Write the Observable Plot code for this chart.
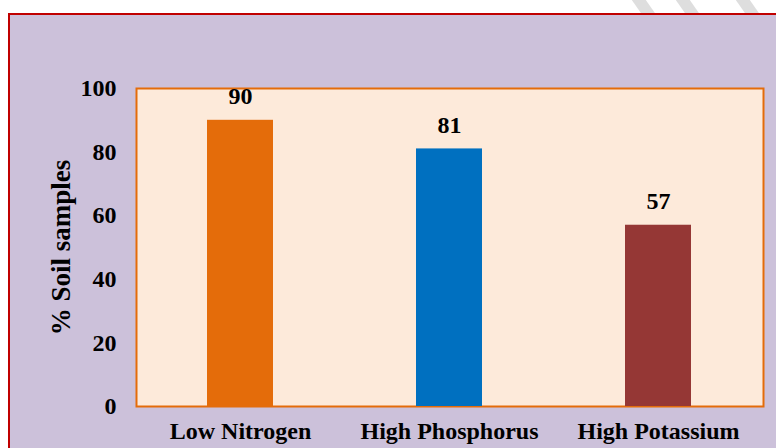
<!DOCTYPE html>
<html>
<head>
<meta charset="utf-8">
<script src="https://cdn.jsdelivr.net/npm/d3@7"></script>
<script src="https://cdn.jsdelivr.net/npm/@observablehq/plot@0.6"></script>
<style>
  html, body { margin: 0; padding: 0; background: #ffffff; overflow: hidden; }
  #wrap { position: relative; width: 776px; height: 448px; overflow: hidden; }
  #panel { position: absolute; left: 8px; top: 13px; width: 800px; height: 460px;
           background: #CCC1DA; border: 2px solid #C00000; box-sizing: border-box; }
  .stripe { position: absolute; top: -4px; width: 14px; height: 20px; background: #DEDEDE;
            transform: skewX(35deg); }
  #chart { position: absolute; left: 0; top: 0; }
  #chart svg text { font-family: 'Liberation Serif', 'Times New Roman', serif; font-weight: bold; }
</style>
</head>
<body>
<div id="wrap">
  <div class="stripe" style="left:636px"></div>
  <div class="stripe" style="left:680px"></div>
  <div class="stripe" style="left:740px"></div>
  <div id="panel"></div>
  <div id="chart"></div>
</div>
<script>
const categories = ["Low Nitrogen", "High Phosphorus", "High Potassium"];
const values = [90, 81, 57];
const colors = ["#E46C0A", "#0070C0", "#953735"];
const yTicks = [0, 20, 40, 60, 80, 100];

const data = categories.map((c, i) => ({category: c, value: values[i], color: colors[i]}));

const chart = Plot.plot({
  width: 776,
  height: 448,
  marginLeft: 136,
  marginTop: 88,
  marginRight: 13,
  marginBottom: 42,
  style: {
    fontFamily: "'Liberation Serif', 'Times New Roman', serif",
    fontSize: "24px",
    fontWeight: "bold",
    color: "#000",
    background: "transparent",
    overflow: "visible"
  },
  x: {domain: categories, paddingInner: 0.684, paddingOuter: 0.342, align: 0.5, label: null},
  y: {domain: [0, 100], label: null},
  marks: [
    Plot.frame({fill: "#FDEADA", stroke: "#E46C0A", strokeWidth: 2}),
    Plot.barY(data, {x: "category", y: "value", fill: "color"}),
    Plot.text(data, {x: "category", y: "value", text: d => String(d.value),
      lineAnchor: "bottom", dy: -16, fontSize: 24, fontWeight: "bold", fill: "#000"}),
    Plot.axisY({ticks: yTicks, tickSize: 0, tickPadding: 20, fontSize: 24, label: null}),
    Plot.axisX({tickSize: 0, tickPadding: 15, fontSize: 24, label: null}),
    Plot.text(["% Soil samples"], {frameAnchor: "left", dx: -75, rotate: -90,
      fontSize: 27, fontWeight: "bold", fill: "#000", textAnchor: "middle"})
  ]
});
document.getElementById("chart").appendChild(chart);
</script>
</body>
</html>
